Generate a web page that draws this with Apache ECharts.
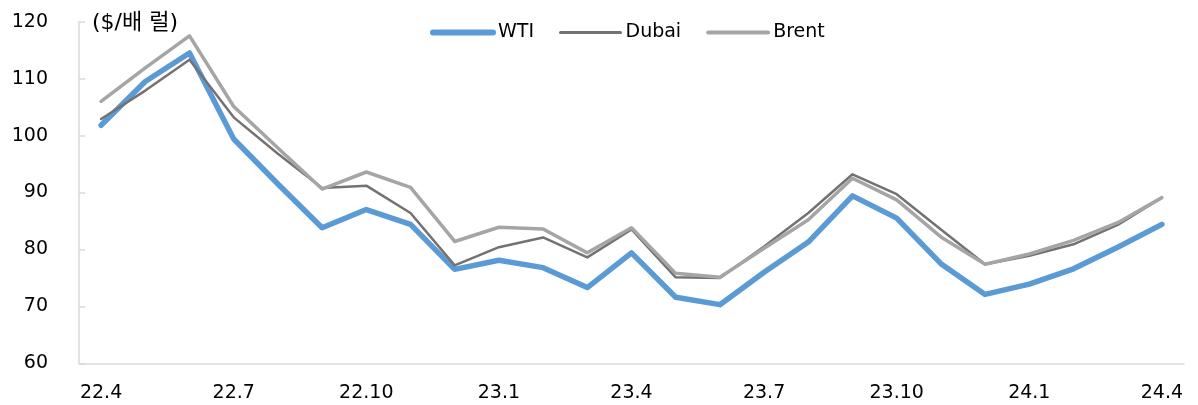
<!DOCTYPE html>
<html>
<head>
<meta charset="utf-8">
<script src="https://cdn.jsdelivr.net/npm/echarts@6/dist/echarts.min.js"></script>
<style>
  html, body { margin: 0; padding: 0; background: #fff; }
  #chart { width: 1198px; height: 405px; }
</style>
</head>
<body>
<div id="chart"></div>
<script>
// 월별 유가 ($/배럴), 22.4 ~ 24.4
var months = ['22.4', '22.5', '22.6', '22.7', '22.8', '22.9', '22.10', '22.11', '22.12',
  '23.1', '23.2', '23.3', '23.4', '23.5', '23.6', '23.7', '23.8', '23.9', '23.10', '23.11', '23.12',
  '24.1', '24.2', '24.3', '24.4'];
var wti = [101.8, 109.5, 114.5, 99.4, 91.5, 83.8, 87.0, 84.4, 76.5,
  78.1, 76.8, 73.3, 79.4, 71.6, 70.3, 76.0, 81.3, 89.4, 85.5, 77.5, 72.1,
  73.9, 76.6, 80.4, 84.4];
var dubai = [102.9, 107.9, 113.3, 103.2, 96.8, 90.8, 91.2, 86.4, 77.2,
  80.4, 82.1, 78.6, 83.5, 75.1, 75.0, 80.5, 86.4, 93.2, 89.7, 83.5, 77.4,
  78.9, 80.9, 84.3, 89.1];
var brent = [106.0, 111.9, 117.5, 105.1, 97.8, 90.6, 93.6, 90.9, 81.4,
  83.9, 83.6, 79.4, 83.8, 75.8, 75.1, 80.2, 85.2, 92.5, 88.7, 82.2, 77.4,
  79.2, 81.6, 84.7, 89.1];
var yTicks = [60, 70, 80, 90, 100, 110, 120];

var font = '"DejaVu Sans", "Noto Sans CJK KR", sans-serif';
var chart = echarts.init(document.getElementById('chart'));

chart.setOption({
  animation: false,
  textStyle: { fontFamily: font },
  title: {
    text: '($/배 럴)',
    left: 87,
    top: 7,
    textStyle: { fontFamily: font, fontSize: 22, fontWeight: 'normal', color: '#000' }
  },
  legend: {
    left: 425,
    top: 18,
    itemWidth: 60,
    itemHeight: 14,
    itemGap: 25,
    itemStyle: { opacity: 0 },
    textStyle: { fontSize: 19, color: '#000', fontFamily: font },
    data: [
      { name: 'WTI', lineStyle: { width: 6, cap: 'round' } },
      { name: 'Dubai', lineStyle: { width: 3, cap: 'round' } },
      { name: 'Brent', lineStyle: { width: 4, cap: 'round' } }
    ]
  },
  grid: { left: 79, right: 14, top: 21.7, bottom: 41.7 },
  xAxis: {
    type: 'category',
    data: months,
    boundaryGap: true,
    axisLine: { lineStyle: { color: '#d9d9d9', width: 1.5 } },
    axisTick: { interval: 2, inside: true, length: 6, lineStyle: { color: '#d9d9d9', width: 1.5 } },
    axisLabel: { interval: 2, margin: 20, fontSize: 19, color: '#000' }
  },
  yAxis: {
    type: 'value',
    min: yTicks[0],
    max: yTicks[yTicks.length - 1],
    interval: 10,
    splitLine: { show: false },
    axisLine: { show: true, lineStyle: { color: '#d9d9d9', width: 1.5 } },
    axisTick: { show: true, inside: true, length: 6, lineStyle: { color: '#d9d9d9', width: 1.5 } },
    axisLabel: { margin: 31, fontSize: 19, color: '#000' }
  },
  series: [
    {
      name: 'WTI', type: 'line', data: wti, symbol: 'none',
      itemStyle: { color: '#5b9bd5' },
      lineStyle: { color: '#5b9bd5', width: 5.5, cap: 'round', join: 'round' }
    },
    {
      name: 'Dubai', type: 'line', data: dubai, symbol: 'none',
      itemStyle: { color: '#767171' },
      lineStyle: { color: '#767171', width: 2.5, cap: 'round', join: 'round' }
    },
    {
      name: 'Brent', type: 'line', data: brent, symbol: 'none',
      itemStyle: { color: '#a5a5a5' },
      lineStyle: { color: '#a5a5a5', width: 3.5, cap: 'round', join: 'round' }
    }
  ]
});
</script>
</body>
</html>
